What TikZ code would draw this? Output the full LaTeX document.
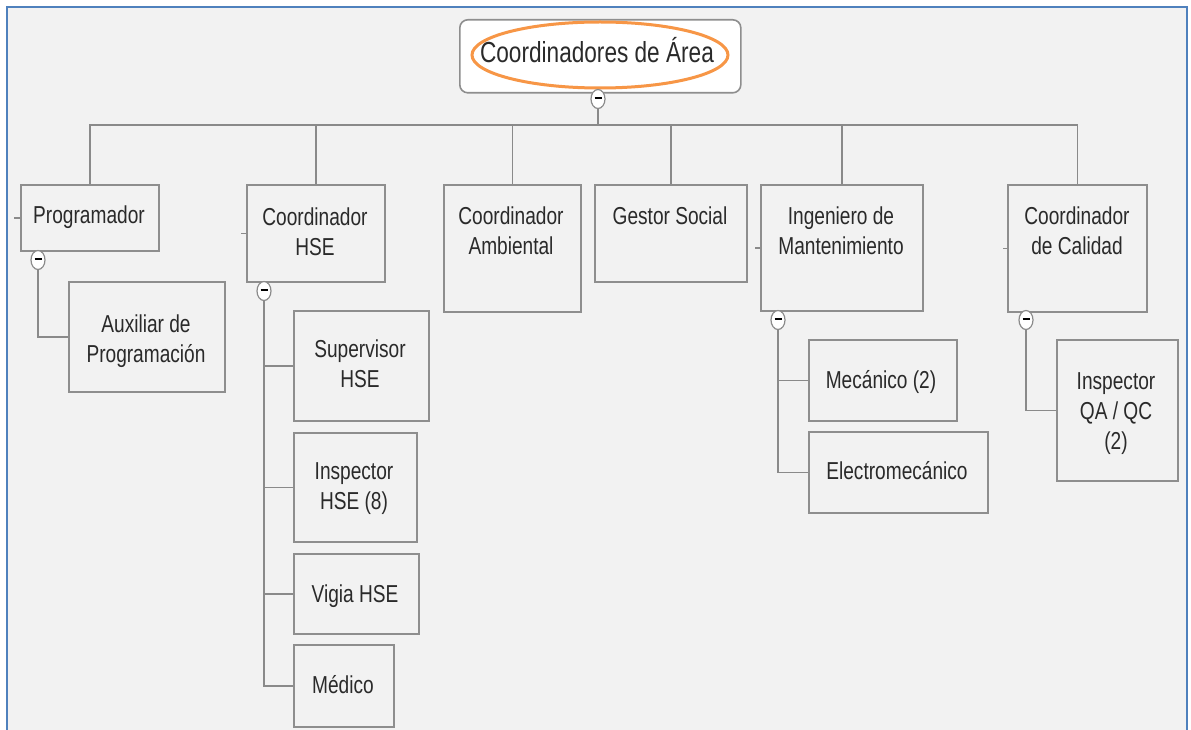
\documentclass[tikz,border=0pt]{standalone}
\usepackage{fontspec}
\setmainfont[FakeStretch=0.78]{Liberation Sans}
\usetikzlibrary{shapes.geometric}
\definecolor{pagebg}{HTML}{F2F2F2}
\definecolor{frameblue}{HTML}{4F81BD}
\definecolor{hlorange}{HTML}{F79646}
\definecolor{boxline}{HTML}{8E8E8E}
\definecolor{linkline}{HTML}{8A8A8A}
\definecolor{txtc}{HTML}{2A2A2A}
\tikzset{
  orgbox/.style={draw=boxline, line width=1.6pt, inner sep=0pt, anchor=north west},
  rootbox/.style={orgbox, fill=white, rounded corners=8pt},
  lbl/.style={inner sep=0pt, align=center, text=txtc, font=\fontsize{24.5}{30}\selectfont},
  link/.style={draw=linkline, line width=1.6pt},
  toggle/.style={ellipse, draw=linkline, line width=1.2pt, fill=white, inner sep=0pt,
    minimum width=14pt, minimum height=19pt},
}
\newcommand{\minusbar}{\textcolor{black}{\rule[2pt]{7pt}{2pt}}}
\begin{document}
\begin{tikzpicture}[x=1pt,y=-1pt]
\useasboundingbox (0,0) rectangle (1191,730);
% page and frame
\fill[white] (0,0) rectangle (1191,730);
\fill[pagebg] (7,7) rectangle (1187,730);
\draw[frameblue, line width=2.6pt] (7,730) -- (7,7) -- (1187,7) -- (1187,730);

% root
\node[rootbox, minimum width=281, minimum height=73] (root) at (459,19) {};
\node[inner sep=0pt, text=txtc, font=\fontsize{29}{35}\selectfont, anchor=base] (rootT) at (597,63) {Coordinadores de Área};
\node[ellipse, draw=hlorange, line width=3pt, minimum width=256, minimum height=66] (mark) at (600,55) {};

% first level
\node[orgbox, minimum width=138, minimum height=66]  (prog) at (20,184) {};
\node[orgbox, minimum width=138, minimum height=97]  (hse)  at (246,184) {};
\node[orgbox, minimum width=137, minimum height=127] (amb)  at (443,184) {};
\node[orgbox, minimum width=152, minimum height=97]  (ges)  at (594,184) {};
\node[orgbox, minimum width=162, minimum height=126] (ing)  at (760,184) {};
\node[orgbox, minimum width=139, minimum height=127] (cal)  at (1007,184) {};

% second level
\node[orgbox, minimum width=156, minimum height=110] (aux)  at (68,281) {};
\node[orgbox, minimum width=135, minimum height=110] (sup)  at (293,310) {};
\node[orgbox, minimum width=123, minimum height=109] (insp) at (293,432) {};
\node[orgbox, minimum width=125, minimum height=80]  (vig)  at (293,553) {};
\node[orgbox, minimum width=100, minimum height=82]  (med)  at (293,644) {};
\node[orgbox, minimum width=148, minimum height=81]  (mec)  at (808,339) {};
\node[orgbox, minimum width=179, minimum height=81]  (ele)  at (808,431) {};
\node[orgbox, minimum width=121, minimum height=141] (qa)   at (1056,339) {};

% labels
\node[lbl, anchor=base]  (progT) at (89,223)   {Programador};
\node[lbl, anchor=north] (hseT)  at (315,208)  {Coordinador\\HSE};
\node[lbl, anchor=north] (ambT)  at (511,207)  {Coordinador\\Ambiental};
\node[lbl, anchor=base]  (gesT)  at (670,225)  {Gestor Social};
\node[lbl, anchor=north] (ingT)  at (841,207)  {Ingeniero de\\Mantenimiento};
\node[lbl, anchor=north] (calT)  at (1077,207) {Coordinador\\de Calidad};
\node[lbl, anchor=north] (auxT)  at (146,315)  {Auxiliar de\\Programación};
\node[lbl, anchor=north] (supT)  at (360,340)  {Supervisor\\HSE};
\node[lbl, anchor=north] (inspT) at (354,462)  {Inspector\\HSE (8)};
\node[lbl, anchor=base]  (vigT)  at (355,602)  {Vigia HSE};
\node[lbl, anchor=base]  (medT)  at (343,693)  {Médico};
\node[lbl, anchor=base]  (mecT)  at (881,388)  {Mecánico (2)};
\node[lbl, anchor=base]  (eleT)  at (897,479)  {Electromecánico};
\node[lbl, anchor=north] (qaT)   at (1116,372) {Inspector\\QA / QC\\(2)};

% collapse toggles
\coordinate (bus) at (598,125);
\node[toggle] (troot) at (598,99)  {\minusbar};
\node[toggle] (tprog) at (38,260)  {\minusbar};
\node[toggle] (thse)  at (264,291) {\minusbar};
\node[toggle] (ting)  at (778,320) {\minusbar};
\node[toggle] (tcal)  at (1026,320) {\minusbar};

% connectors
\path[link] (troot.south) -- (bus);
\path[link] (bus) -| (prog.north);
\path[link] (bus) -| (hse.north);
\path[link] (bus) -| (amb.north);
\path[link] (bus) -| (ges.north);
\path[link] (bus) -| (ing.north);
\path[link] (bus) -| (cal.north);
\path[link] (tprog.south) |- (aux.west);
\path[link] (thse.south) |- (sup.west);
\path[link] (thse.south) |- (insp.west);
\path[link] (thse.south) |- (vig.west);
\path[link] (thse.south) |- (med.west);
\path[link] (ting.south) |- (mec.west);
\path[link] (ting.south) |- (ele.west);
\path[link] (tcal.south) |- (qa.west);
% short anchor stubs on the left sides
\path[link] (prog.west) -- ++(-6,0);
\path[link] (hse.west) -- ++(-5,0);
\path[link] (ing.west) -- ++(-5,0);
\path[link] (cal.west) -- ++(-4,0);
\end{tikzpicture}
\end{document}
